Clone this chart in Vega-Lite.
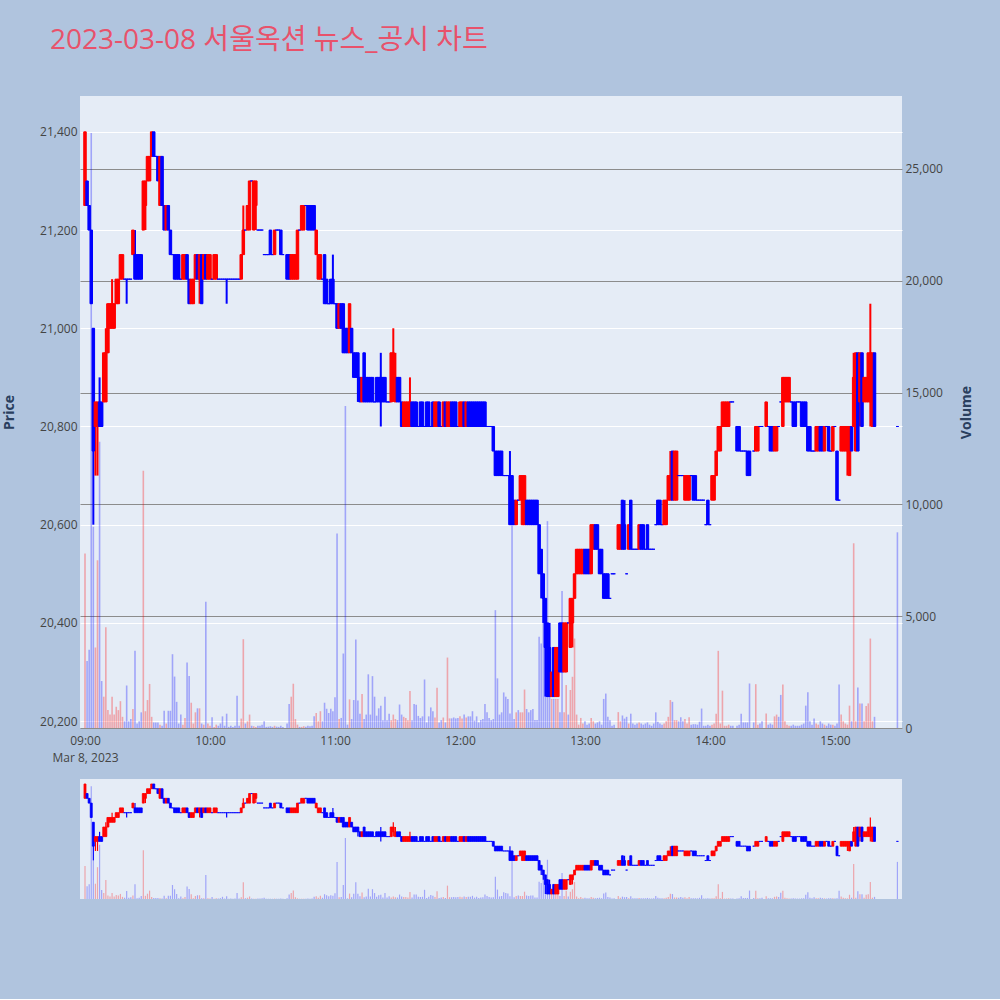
{
"$schema": "https://vega.github.io/schema/vega-lite/v6.json",
"background": "#B0C4DE",
"padding": {"left": 2, "top": 27, "right": 27, "bottom": 100},
"title": {"text": "2023-03-08 서울옥션 뉴스_공시 차트", "anchor": "start", "frame": "bounds", "fontSize": 28, "font": "Open Sans, Noto Sans CJK KR, sans-serif", "fontWeight": "normal", "color": "#E8526B", "dx": 48, "offset": 41},
"data": {"format": {"parse": {"t": "utc:'%H:%M'"}}, "values": [
{"t":"09:00","o":21250,"h":21400,"l":21250,"c":21400,"v":7800},
{"t":"09:01","o":21300,"h":21300,"l":21250,"c":21250,"v":3000},
{"t":"09:02","o":21250,"h":21250,"l":21200,"c":21200,"v":3500},
{"t":"09:03","o":21200,"h":21200,"l":21050,"c":21050,"v":26600},
{"t":"09:04","o":21000,"h":21000,"l":20600,"c":20750,"v":9000},
{"t":"09:05","o":20800,"h":20850,"l":20700,"c":20850,"v":3600},
{"t":"09:06","o":20800,"h":20850,"l":20700,"c":20850,"v":7500},
{"t":"09:07","o":20850,"h":20900,"l":20800,"c":20800,"v":12800},
{"t":"09:08","o":20850,"h":20850,"l":20800,"c":20800,"v":2100},
{"t":"09:09","o":20850,"h":20950,"l":20850,"c":20950,"v":1400},
{"t":"09:10","o":20850,"h":21000,"l":20850,"c":20950,"v":4500},
{"t":"09:11","o":20950,"h":21050,"l":20950,"c":21050,"v":800},
{"t":"09:12","o":21000,"h":21050,"l":21000,"c":21050,"v":600},
{"t":"09:13","o":21000,"h":21100,"l":21000,"c":21050,"v":1400},
{"t":"09:14","o":21000,"h":21050,"l":21000,"c":21050,"v":600},
{"t":"09:15","o":21050,"h":21100,"l":21050,"c":21100,"v":950},
{"t":"09:16","o":21050,"h":21100,"l":21050,"c":21100,"v":800},
{"t":"09:17","o":21100,"h":21150,"l":21100,"c":21150,"v":1200},
{"t":"09:18","o":21100,"h":21150,"l":21100,"c":21150,"v":500},
{"t":"09:19","o":21100,"h":21100,"l":21100,"c":21100,"v":300},
{"t":"09:20","o":21100,"h":21100,"l":21050,"c":21100,"v":1900},
{"t":"09:21","o":21100,"h":21100,"l":21100,"c":21100,"v":300},
{"t":"09:22","o":21100,"h":21100,"l":21100,"c":21100,"v":400},
{"t":"09:23","o":21150,"h":21200,"l":21150,"c":21200,"v":850},
{"t":"09:24","o":21150,"h":21200,"l":21100,"c":21100,"v":3450},
{"t":"09:25","o":21150,"h":21150,"l":21100,"c":21100,"v":200},
{"t":"09:26","o":21150,"h":21150,"l":21100,"c":21100,"v":300},
{"t":"09:27","o":21150,"h":21150,"l":21100,"c":21100,"v":700},
{"t":"09:28","o":21200,"h":21300,"l":21200,"c":21300,"v":11500},
{"t":"09:29","o":21250,"h":21300,"l":21200,"c":21300,"v":750},
{"t":"09:30","o":21300,"h":21350,"l":21300,"c":21350,"v":1250},
{"t":"09:31","o":21300,"h":21350,"l":21300,"c":21350,"v":1970},
{"t":"09:32","o":21350,"h":21400,"l":21350,"c":21400,"v":500},
{"t":"09:33","o":21400,"h":21400,"l":21350,"c":21350,"v":250},
{"t":"09:34","o":21350,"h":21350,"l":21350,"c":21350,"v":250},
{"t":"09:35","o":21350,"h":21350,"l":21300,"c":21300,"v":250},
{"t":"09:36","o":21250,"h":21350,"l":21250,"c":21350,"v":150},
{"t":"09:37","o":21350,"h":21350,"l":21250,"c":21250,"v":100},
{"t":"09:38","o":21250,"h":21250,"l":21200,"c":21200,"v":770},
{"t":"09:39","o":21200,"h":21250,"l":21200,"c":21250,"v":200},
{"t":"09:40","o":21250,"h":21250,"l":21200,"c":21200,"v":770},
{"t":"09:41","o":21200,"h":21200,"l":21150,"c":21150,"v":770},
{"t":"09:42","o":21150,"h":21150,"l":21150,"c":21150,"v":3300},
{"t":"09:43","o":21150,"h":21150,"l":21100,"c":21100,"v":2300},
{"t":"09:44","o":21150,"h":21150,"l":21100,"c":21100,"v":1170},
{"t":"09:45","o":21150,"h":21150,"l":21100,"c":21100,"v":200},
{"t":"09:46","o":21100,"h":21100,"l":21100,"c":21100,"v":600},
{"t":"09:47","o":21100,"h":21150,"l":21100,"c":21150,"v":150},
{"t":"09:48","o":21100,"h":21150,"l":21100,"c":21150,"v":450},
{"t":"09:49","o":21150,"h":21150,"l":21100,"c":21100,"v":2930},
{"t":"09:50","o":21100,"h":21100,"l":21050,"c":21050,"v":2330},
{"t":"09:51","o":21050,"h":21100,"l":21050,"c":21100,"v":1130},
{"t":"09:52","o":21050,"h":21100,"l":21050,"c":21100,"v":200},
{"t":"09:53","o":21100,"h":21150,"l":21100,"c":21150,"v":700},
{"t":"09:54","o":21150,"h":21150,"l":21100,"c":21100,"v":880},
{"t":"09:55","o":21100,"h":21150,"l":21050,"c":21150,"v":880},
{"t":"09:56","o":21150,"h":21150,"l":21050,"c":21050,"v":200},
{"t":"09:57","o":21100,"h":21150,"l":21100,"c":21150,"v":150},
{"t":"09:58","o":21150,"h":21150,"l":21100,"c":21100,"v":5650},
{"t":"09:59","o":21100,"h":21150,"l":21100,"c":21150,"v":200},
{"t":"10:00","o":21100,"h":21150,"l":21100,"c":21150,"v":100},
{"t":"10:01","o":21100,"h":21100,"l":21100,"c":21100,"v":480},
{"t":"10:02","o":21100,"h":21150,"l":21100,"c":21150,"v":50},
{"t":"10:03","o":21100,"h":21150,"l":21100,"c":21150,"v":150},
{"t":"10:04","o":21100,"h":21100,"l":21100,"c":21100,"v":100},
{"t":"10:05","o":21100,"h":21100,"l":21100,"c":21100,"v":200},
{"t":"10:06","o":21100,"h":21100,"l":21100,"c":21100,"v":520},
{"t":"10:07","o":21100,"h":21100,"l":21100,"c":21100,"v":100},
{"t":"10:08","o":21100,"h":21100,"l":21050,"c":21100,"v":640},
{"t":"10:09","o":21100,"h":21100,"l":21100,"c":21100,"v":50},
{"t":"10:10","o":21100,"h":21100,"l":21100,"c":21100,"v":100},
{"t":"10:11","o":21100,"h":21100,"l":21100,"c":21100,"v":50},
{"t":"10:12","o":21100,"h":21100,"l":21100,"c":21100,"v":100},
{"t":"10:13","o":21100,"h":21100,"l":21100,"c":21100,"v":1440},
{"t":"10:14","o":21100,"h":21100,"l":21100,"c":21100,"v":100},
{"t":"10:15","o":21100,"h":21150,"l":21100,"c":21150,"v":420},
{"t":"10:16","o":21150,"h":21250,"l":21150,"c":21200,"v":3970},
{"t":"10:17","o":21200,"h":21200,"l":21200,"c":21200,"v":200},
{"t":"10:18","o":21200,"h":21250,"l":21200,"c":21250,"v":300},
{"t":"10:19","o":21200,"h":21300,"l":21200,"c":21300,"v":600},
{"t":"10:20","o":21300,"h":21300,"l":21300,"c":21300,"v":100},
{"t":"10:21","o":21200,"h":21300,"l":21200,"c":21300,"v":80},
{"t":"10:22","o":21250,"h":21300,"l":21200,"c":21300,"v":50},
{"t":"10:23","o":21200,"h":21200,"l":21200,"c":21200,"v":100},
{"t":"10:24","o":21200,"h":21200,"l":21200,"c":21200,"v":100},
{"t":"10:25","o":21200,"h":21200,"l":21200,"c":21200,"v":150},
{"t":"10:26","o":21150,"h":21150,"l":21150,"c":21150,"v":300},
{"t":"10:27","o":21150,"h":21150,"l":21150,"c":21150,"v":50},
{"t":"10:28","o":21150,"h":21150,"l":21150,"c":21150,"v":60},
{"t":"10:29","o":21200,"h":21200,"l":21150,"c":21150,"v":80},
{"t":"10:30","o":21150,"h":21150,"l":21150,"c":21150,"v":50},
{"t":"10:31","o":21150,"h":21200,"l":21150,"c":21200,"v":100},
{"t":"10:32","o":21200,"h":21200,"l":21200,"c":21200,"v":60},
{"t":"10:33","o":21200,"h":21200,"l":21200,"c":21200,"v":50},
{"t":"10:34","o":21200,"h":21200,"l":21150,"c":21150,"v":100},
{"t":"10:35","o":21150,"h":21150,"l":21150,"c":21150,"v":50},
{"t":"10:37","o":21150,"h":21150,"l":21100,"c":21100,"v":200},
{"t":"10:38","o":21150,"h":21150,"l":21100,"c":21100,"v":1070},
{"t":"10:39","o":21100,"h":21150,"l":21100,"c":21150,"v":1400},
{"t":"10:40","o":21100,"h":21150,"l":21100,"c":21150,"v":1980},
{"t":"10:41","o":21100,"h":21150,"l":21100,"c":21150,"v":400},
{"t":"10:42","o":21100,"h":21200,"l":21100,"c":21200,"v":150},
{"t":"10:43","o":21200,"h":21200,"l":21200,"c":21200,"v":50},
{"t":"10:44","o":21200,"h":21250,"l":21200,"c":21250,"v":50},
{"t":"10:45","o":21200,"h":21250,"l":21200,"c":21250,"v":80},
{"t":"10:46","o":21250,"h":21250,"l":21250,"c":21250,"v":60},
{"t":"10:47","o":21250,"h":21250,"l":21200,"c":21200,"v":100},
{"t":"10:48","o":21250,"h":21250,"l":21200,"c":21200,"v":80},
{"t":"10:49","o":21250,"h":21250,"l":21200,"c":21200,"v":100},
{"t":"10:50","o":21250,"h":21250,"l":21200,"c":21200,"v":520},
{"t":"10:51","o":21150,"h":21200,"l":21150,"c":21200,"v":670},
{"t":"10:52","o":21100,"h":21150,"l":21100,"c":21150,"v":300},
{"t":"10:53","o":21100,"h":21150,"l":21100,"c":21150,"v":750},
{"t":"10:54","o":21100,"h":21100,"l":21100,"c":21100,"v":300},
{"t":"10:55","o":21150,"h":21150,"l":21050,"c":21050,"v":1130},
{"t":"10:56","o":21100,"h":21100,"l":21050,"c":21050,"v":860},
{"t":"10:57","o":21050,"h":21050,"l":21050,"c":21050,"v":670},
{"t":"10:58","o":21100,"h":21100,"l":21050,"c":21050,"v":860},
{"t":"10:59","o":21100,"h":21150,"l":21050,"c":21050,"v":750},
{"t":"11:00","o":21050,"h":21050,"l":21050,"c":21050,"v":1380},
{"t":"11:01","o":21050,"h":21050,"l":21000,"c":21000,"v":8700},
{"t":"11:02","o":21000,"h":21050,"l":21000,"c":21050,"v":400},
{"t":"11:03","o":21050,"h":21050,"l":21000,"c":21000,"v":450},
{"t":"11:04","o":21050,"h":21050,"l":20950,"c":20950,"v":3330},
{"t":"11:05","o":21000,"h":21000,"l":20950,"c":20950,"v":14400},
{"t":"11:06","o":21000,"h":21000,"l":20950,"c":20950,"v":150},
{"t":"11:07","o":20950,"h":21050,"l":20950,"c":21050,"v":1280},
{"t":"11:08","o":21000,"h":21000,"l":20950,"c":20950,"v":400},
{"t":"11:09","o":20950,"h":20950,"l":20900,"c":20900,"v":1250},
{"t":"11:10","o":20950,"h":20950,"l":20900,"c":20900,"v":3960},
{"t":"11:11","o":20950,"h":20950,"l":20850,"c":20900,"v":1230},
{"t":"11:12","o":20900,"h":20900,"l":20850,"c":20850,"v":640},
{"t":"11:13","o":20850,"h":20900,"l":20850,"c":20900,"v":1520},
{"t":"11:14","o":20950,"h":20950,"l":20850,"c":20850,"v":400},
{"t":"11:15","o":20900,"h":20900,"l":20850,"c":20850,"v":600},
{"t":"11:16","o":20900,"h":20900,"l":20850,"c":20850,"v":2400},
{"t":"11:17","o":20900,"h":20900,"l":20850,"c":20850,"v":600},
{"t":"11:18","o":20900,"h":20900,"l":20850,"c":20850,"v":2320},
{"t":"11:19","o":20850,"h":20850,"l":20850,"c":20850,"v":1400},
{"t":"11:20","o":20900,"h":20900,"l":20850,"c":20850,"v":550},
{"t":"11:21","o":20900,"h":20900,"l":20850,"c":20850,"v":880},
{"t":"11:22","o":20900,"h":20950,"l":20800,"c":20850,"v":1000},
{"t":"11:23","o":20900,"h":20900,"l":20850,"c":20850,"v":350},
{"t":"11:24","o":20900,"h":20900,"l":20850,"c":20850,"v":1400},
{"t":"11:25","o":20850,"h":20850,"l":20850,"c":20850,"v":350},
{"t":"11:26","o":20850,"h":20850,"l":20850,"c":20850,"v":640},
{"t":"11:27","o":20850,"h":20950,"l":20850,"c":20950,"v":350},
{"t":"11:28","o":20900,"h":21000,"l":20850,"c":20950,"v":600},
{"t":"11:29","o":20850,"h":20950,"l":20850,"c":20900,"v":400},
{"t":"11:30","o":20900,"h":20900,"l":20850,"c":20850,"v":350},
{"t":"11:31","o":20900,"h":20900,"l":20850,"c":20850,"v":1050},
{"t":"11:32","o":20850,"h":20850,"l":20800,"c":20800,"v":600},
{"t":"11:33","o":20800,"h":20850,"l":20800,"c":20850,"v":500},
{"t":"11:34","o":20800,"h":20850,"l":20800,"c":20850,"v":450},
{"t":"11:35","o":20800,"h":20850,"l":20800,"c":20850,"v":350},
{"t":"11:36","o":20800,"h":20900,"l":20800,"c":20850,"v":1650},
{"t":"11:37","o":20850,"h":20850,"l":20800,"c":20800,"v":350},
{"t":"11:38","o":20850,"h":20850,"l":20800,"c":20800,"v":1070},
{"t":"11:39","o":20850,"h":20850,"l":20800,"c":20800,"v":1040},
{"t":"11:40","o":20800,"h":20800,"l":20800,"c":20800,"v":540},
{"t":"11:41","o":20850,"h":20850,"l":20800,"c":20800,"v":450},
{"t":"11:42","o":20850,"h":20850,"l":20800,"c":20800,"v":520},
{"t":"11:43","o":20800,"h":20800,"l":20800,"c":20800,"v":2170},
{"t":"11:44","o":20850,"h":20850,"l":20800,"c":20800,"v":250},
{"t":"11:45","o":20850,"h":20850,"l":20800,"c":20800,"v":520},
{"t":"11:46","o":20800,"h":20800,"l":20800,"c":20800,"v":920},
{"t":"11:47","o":20850,"h":20850,"l":20800,"c":20800,"v":750},
{"t":"11:48","o":20800,"h":20850,"l":20800,"c":20850,"v":470},
{"t":"11:49","o":20800,"h":20850,"l":20800,"c":20850,"v":1800},
{"t":"11:50","o":20850,"h":20850,"l":20800,"c":20800,"v":250},
{"t":"11:51","o":20800,"h":20800,"l":20800,"c":20800,"v":350},
{"t":"11:52","o":20800,"h":20850,"l":20800,"c":20850,"v":470},
{"t":"11:53","o":20850,"h":20850,"l":20800,"c":20800,"v":250},
{"t":"11:54","o":20800,"h":20850,"l":20800,"c":20850,"v":3150},
{"t":"11:55","o":20800,"h":20850,"l":20800,"c":20850,"v":430},
{"t":"11:56","o":20850,"h":20850,"l":20800,"c":20800,"v":430},
{"t":"11:57","o":20850,"h":20850,"l":20800,"c":20800,"v":470},
{"t":"11:58","o":20850,"h":20850,"l":20800,"c":20800,"v":430},
{"t":"11:59","o":20800,"h":20800,"l":20800,"c":20800,"v":450},
{"t":"12:00","o":20800,"h":20850,"l":20800,"c":20850,"v":520},
{"t":"12:01","o":20800,"h":20850,"l":20800,"c":20850,"v":430},
{"t":"12:02","o":20850,"h":20850,"l":20800,"c":20800,"v":600},
{"t":"12:03","o":20800,"h":20850,"l":20800,"c":20850,"v":470},
{"t":"12:04","o":20850,"h":20850,"l":20800,"c":20800,"v":520},
{"t":"12:05","o":20850,"h":20850,"l":20800,"c":20800,"v":520},
{"t":"12:06","o":20850,"h":20850,"l":20800,"c":20800,"v":750},
{"t":"12:07","o":20850,"h":20850,"l":20800,"c":20800,"v":330},
{"t":"12:08","o":20850,"h":20850,"l":20800,"c":20800,"v":520},
{"t":"12:09","o":20850,"h":20850,"l":20800,"c":20800,"v":250},
{"t":"12:10","o":20850,"h":20850,"l":20800,"c":20800,"v":360},
{"t":"12:11","o":20850,"h":20850,"l":20800,"c":20800,"v":400},
{"t":"12:12","o":20850,"h":20850,"l":20800,"c":20800,"v":1070},
{"t":"12:13","o":20800,"h":20800,"l":20800,"c":20800,"v":700},
{"t":"12:14","o":20800,"h":20800,"l":20800,"c":20800,"v":450},
{"t":"12:15","o":20800,"h":20800,"l":20800,"c":20800,"v":350},
{"t":"12:16","o":20800,"h":20800,"l":20750,"c":20750,"v":400},
{"t":"12:17","o":20750,"h":20750,"l":20700,"c":20700,"v":5270},
{"t":"12:18","o":20750,"h":20750,"l":20700,"c":20700,"v":2220},
{"t":"12:19","o":20750,"h":20750,"l":20700,"c":20700,"v":600},
{"t":"12:20","o":20750,"h":20750,"l":20700,"c":20700,"v":700},
{"t":"12:21","o":20700,"h":20700,"l":20700,"c":20700,"v":1590},
{"t":"12:22","o":20700,"h":20700,"l":20700,"c":20700,"v":1400},
{"t":"12:23","o":20700,"h":20700,"l":20700,"c":20700,"v":1300},
{"t":"12:24","o":20700,"h":20750,"l":20600,"c":20600,"v":650},
{"t":"12:25","o":20700,"h":20700,"l":20600,"c":20600,"v":9060},
{"t":"12:26","o":20650,"h":20650,"l":20600,"c":20600,"v":400},
{"t":"12:27","o":20600,"h":20650,"l":20600,"c":20650,"v":700},
{"t":"12:28","o":20650,"h":20650,"l":20650,"c":20650,"v":800},
{"t":"12:29","o":20650,"h":20700,"l":20650,"c":20700,"v":700},
{"t":"12:30","o":20600,"h":20700,"l":20600,"c":20700,"v":700},
{"t":"12:31","o":20600,"h":20700,"l":20600,"c":20700,"v":1720},
{"t":"12:32","o":20650,"h":20650,"l":20600,"c":20600,"v":850},
{"t":"12:33","o":20650,"h":20650,"l":20600,"c":20600,"v":700},
{"t":"12:34","o":20650,"h":20650,"l":20600,"c":20600,"v":800},
{"t":"12:35","o":20650,"h":20650,"l":20600,"c":20600,"v":850},
{"t":"12:36","o":20650,"h":20650,"l":20600,"c":20600,"v":360},
{"t":"12:37","o":20650,"h":20650,"l":20600,"c":20600,"v":360},
{"t":"12:38","o":20600,"h":20600,"l":20500,"c":20500,"v":4080},
{"t":"12:39","o":20550,"h":20550,"l":20450,"c":20500,"v":3780},
{"t":"12:40","o":20500,"h":20500,"l":20400,"c":20450,"v":6400},
{"t":"12:41","o":20450,"h":20450,"l":20250,"c":20350,"v":4000},
{"t":"12:42","o":20400,"h":20400,"l":20250,"c":20250,"v":9250},
{"t":"12:43","o":20350,"h":20400,"l":20250,"c":20250,"v":4500},
{"t":"12:44","o":20250,"h":20300,"l":20250,"c":20300,"v":1300},
{"t":"12:45","o":20350,"h":20350,"l":20250,"c":20250,"v":1300},
{"t":"12:46","o":20250,"h":20350,"l":20250,"c":20350,"v":1300},
{"t":"12:47","o":20250,"h":20350,"l":20250,"c":20350,"v":1300},
{"t":"12:48","o":20400,"h":20400,"l":20300,"c":20300,"v":700},
{"t":"12:49","o":20400,"h":20400,"l":20300,"c":20300,"v":6130},
{"t":"12:50","o":20300,"h":20400,"l":20300,"c":20400,"v":700},
{"t":"12:51","o":20300,"h":20400,"l":20300,"c":20400,"v":1920},
{"t":"12:52","o":20400,"h":20400,"l":20400,"c":20400,"v":600},
{"t":"12:53","o":20350,"h":20450,"l":20350,"c":20450,"v":1700},
{"t":"12:54","o":20400,"h":20450,"l":20350,"c":20450,"v":2290},
{"t":"12:55","o":20450,"h":20500,"l":20450,"c":20500,"v":4000},
{"t":"12:56","o":20500,"h":20550,"l":20500,"c":20550,"v":600},
{"t":"12:57","o":20500,"h":20550,"l":20500,"c":20550,"v":150},
{"t":"12:58","o":20500,"h":20550,"l":20500,"c":20550,"v":450},
{"t":"12:59","o":20500,"h":20550,"l":20500,"c":20550,"v":200},
{"t":"13:00","o":20550,"h":20550,"l":20500,"c":20500,"v":300},
{"t":"13:01","o":20550,"h":20550,"l":20500,"c":20500,"v":150},
{"t":"13:02","o":20550,"h":20550,"l":20500,"c":20500,"v":200},
{"t":"13:03","o":20500,"h":20600,"l":20500,"c":20600,"v":450},
{"t":"13:04","o":20550,"h":20600,"l":20550,"c":20600,"v":300},
{"t":"13:05","o":20600,"h":20600,"l":20550,"c":20550,"v":200},
{"t":"13:06","o":20600,"h":20600,"l":20550,"c":20550,"v":250},
{"t":"13:07","o":20550,"h":20550,"l":20500,"c":20500,"v":300},
{"t":"13:08","o":20550,"h":20550,"l":20500,"c":20500,"v":150},
{"t":"13:09","o":20500,"h":20500,"l":20450,"c":20450,"v":1300},
{"t":"13:10","o":20500,"h":20500,"l":20450,"c":20450,"v":1540},
{"t":"13:11","o":20500,"h":20500,"l":20450,"c":20450,"v":500},
{"t":"13:12","o":20450,"h":20450,"l":20450,"c":20450,"v":350},
{"t":"13:13","o":20500,"h":20500,"l":20500,"c":20500,"v":100},
{"t":"13:14","o":20500,"h":20500,"l":20500,"c":20500,"v":150},
{"t":"13:16","o":20550,"h":20600,"l":20550,"c":20600,"v":710},
{"t":"13:17","o":20550,"h":20600,"l":20550,"c":20600,"v":300},
{"t":"13:18","o":20650,"h":20650,"l":20550,"c":20550,"v":560},
{"t":"13:19","o":20600,"h":20650,"l":20550,"c":20550,"v":420},
{"t":"13:20","o":20500,"h":20500,"l":20500,"c":20500,"v":500},
{"t":"13:21","o":20550,"h":20600,"l":20550,"c":20600,"v":200},
{"t":"13:22","o":20650,"h":20650,"l":20550,"c":20550,"v":640},
{"t":"13:23","o":20550,"h":20550,"l":20550,"c":20550,"v":200},
{"t":"13:24","o":20550,"h":20550,"l":20550,"c":20550,"v":150},
{"t":"13:25","o":20550,"h":20550,"l":20550,"c":20550,"v":200},
{"t":"13:26","o":20550,"h":20600,"l":20550,"c":20600,"v":250},
{"t":"13:27","o":20600,"h":20600,"l":20550,"c":20550,"v":200},
{"t":"13:28","o":20600,"h":20600,"l":20550,"c":20550,"v":150},
{"t":"13:29","o":20550,"h":20550,"l":20550,"c":20550,"v":200},
{"t":"13:30","o":20600,"h":20600,"l":20550,"c":20550,"v":250},
{"t":"13:31","o":20550,"h":20550,"l":20550,"c":20550,"v":150},
{"t":"13:32","o":20550,"h":20550,"l":20550,"c":20550,"v":100},
{"t":"13:33","o":20550,"h":20550,"l":20550,"c":20550,"v":200},
{"t":"13:34","o":20600,"h":20600,"l":20600,"c":20600,"v":700},
{"t":"13:35","o":20650,"h":20650,"l":20600,"c":20600,"v":280},
{"t":"13:36","o":20650,"h":20650,"l":20600,"c":20600,"v":200},
{"t":"13:37","o":20600,"h":20600,"l":20600,"c":20600,"v":150},
{"t":"13:38","o":20600,"h":20650,"l":20600,"c":20650,"v":200},
{"t":"13:39","o":20600,"h":20650,"l":20600,"c":20650,"v":300},
{"t":"13:40","o":20650,"h":20700,"l":20650,"c":20700,"v":500},
{"t":"13:41","o":20650,"h":20750,"l":20650,"c":20700,"v":1250},
{"t":"13:42","o":20750,"h":20750,"l":20650,"c":20650,"v":1170},
{"t":"13:43","o":20650,"h":20750,"l":20650,"c":20750,"v":350},
{"t":"13:44","o":20650,"h":20750,"l":20650,"c":20750,"v":350},
{"t":"13:45","o":20700,"h":20700,"l":20700,"c":20700,"v":300},
{"t":"13:46","o":20700,"h":20700,"l":20700,"c":20700,"v":480},
{"t":"13:47","o":20700,"h":20700,"l":20700,"c":20700,"v":300},
{"t":"13:48","o":20650,"h":20700,"l":20650,"c":20700,"v":400},
{"t":"13:49","o":20650,"h":20700,"l":20650,"c":20700,"v":200},
{"t":"13:50","o":20650,"h":20700,"l":20650,"c":20700,"v":480},
{"t":"13:51","o":20700,"h":20700,"l":20700,"c":20700,"v":150},
{"t":"13:52","o":20700,"h":20700,"l":20650,"c":20650,"v":170},
{"t":"13:53","o":20700,"h":20700,"l":20650,"c":20650,"v":170},
{"t":"13:54","o":20650,"h":20650,"l":20650,"c":20650,"v":150},
{"t":"13:55","o":20650,"h":20650,"l":20650,"c":20650,"v":280},
{"t":"13:56","o":20650,"h":20650,"l":20650,"c":20650,"v":870},
{"t":"13:57","o":20650,"h":20650,"l":20650,"c":20650,"v":100},
{"t":"13:58","o":20600,"h":20600,"l":20600,"c":20600,"v":100},
{"t":"13:59","o":20650,"h":20650,"l":20600,"c":20600,"v":150},
{"t":"14:00","o":20600,"h":20600,"l":20600,"c":20600,"v":100},
{"t":"14:01","o":20650,"h":20700,"l":20650,"c":20700,"v":150},
{"t":"14:02","o":20650,"h":20700,"l":20650,"c":20700,"v":200},
{"t":"14:03","o":20700,"h":20750,"l":20700,"c":20750,"v":640},
{"t":"14:04","o":20750,"h":20800,"l":20750,"c":20800,"v":3450},
{"t":"14:05","o":20750,"h":20800,"l":20750,"c":20800,"v":200},
{"t":"14:06","o":20800,"h":20850,"l":20800,"c":20850,"v":1670},
{"t":"14:07","o":20800,"h":20850,"l":20800,"c":20850,"v":100},
{"t":"14:08","o":20800,"h":20850,"l":20800,"c":20850,"v":100},
{"t":"14:09","o":20800,"h":20850,"l":20800,"c":20850,"v":150},
{"t":"14:10","o":20850,"h":20850,"l":20850,"c":20850,"v":100},
{"t":"14:11","o":20850,"h":20850,"l":20850,"c":20850,"v":100},
{"t":"14:13","o":20800,"h":20800,"l":20750,"c":20750,"v":100},
{"t":"14:14","o":20800,"h":20800,"l":20750,"c":20750,"v":150},
{"t":"14:15","o":20750,"h":20750,"l":20750,"c":20750,"v":640},
{"t":"14:16","o":20750,"h":20750,"l":20750,"c":20750,"v":250},
{"t":"14:17","o":20750,"h":20750,"l":20750,"c":20750,"v":250},
{"t":"14:18","o":20750,"h":20750,"l":20700,"c":20700,"v":250},
{"t":"14:19","o":20750,"h":20750,"l":20700,"c":20700,"v":1990},
{"t":"14:21","o":20750,"h":20750,"l":20750,"c":20750,"v":250},
{"t":"14:22","o":20750,"h":20800,"l":20750,"c":20800,"v":1960},
{"t":"14:23","o":20750,"h":20800,"l":20750,"c":20800,"v":150},
{"t":"14:24","o":20800,"h":20800,"l":20800,"c":20800,"v":200},
{"t":"14:25","o":20800,"h":20800,"l":20800,"c":20800,"v":300},
{"t":"14:27","o":20800,"h":20850,"l":20800,"c":20850,"v":650},
{"t":"14:28","o":20800,"h":20800,"l":20800,"c":20800,"v":150},
{"t":"14:29","o":20800,"h":20800,"l":20750,"c":20750,"v":200},
{"t":"14:30","o":20800,"h":20800,"l":20750,"c":20750,"v":150},
{"t":"14:31","o":20750,"h":20800,"l":20750,"c":20800,"v":520},
{"t":"14:32","o":20750,"h":20800,"l":20750,"c":20800,"v":600},
{"t":"14:33","o":20800,"h":20800,"l":20800,"c":20800,"v":500},
{"t":"14:34","o":20850,"h":20850,"l":20850,"c":20850,"v":1480},
{"t":"14:35","o":20800,"h":20900,"l":20800,"c":20900,"v":1940},
{"t":"14:36","o":20850,"h":20900,"l":20850,"c":20900,"v":300},
{"t":"14:37","o":20850,"h":20900,"l":20850,"c":20900,"v":150},
{"t":"14:38","o":20850,"h":20900,"l":20850,"c":20900,"v":100},
{"t":"14:39","o":20850,"h":20850,"l":20850,"c":20850,"v":100},
{"t":"14:40","o":20850,"h":20850,"l":20800,"c":20800,"v":150},
{"t":"14:41","o":20850,"h":20850,"l":20800,"c":20800,"v":100},
{"t":"14:42","o":20850,"h":20850,"l":20850,"c":20850,"v":100},
{"t":"14:43","o":20850,"h":20850,"l":20850,"c":20850,"v":100},
{"t":"14:44","o":20850,"h":20850,"l":20800,"c":20800,"v":150},
{"t":"14:45","o":20850,"h":20850,"l":20800,"c":20800,"v":200},
{"t":"14:46","o":20850,"h":20850,"l":20800,"c":20800,"v":1000},
{"t":"14:47","o":20800,"h":20800,"l":20750,"c":20750,"v":1600},
{"t":"14:48","o":20800,"h":20800,"l":20750,"c":20750,"v":300},
{"t":"14:49","o":20750,"h":20750,"l":20750,"c":20750,"v":150},
{"t":"14:50","o":20750,"h":20750,"l":20750,"c":20750,"v":420},
{"t":"14:51","o":20750,"h":20800,"l":20750,"c":20800,"v":200},
{"t":"14:52","o":20750,"h":20800,"l":20750,"c":20800,"v":150},
{"t":"14:53","o":20800,"h":20800,"l":20750,"c":20750,"v":300},
{"t":"14:54","o":20800,"h":20800,"l":20750,"c":20750,"v":200},
{"t":"14:55","o":20750,"h":20800,"l":20750,"c":20800,"v":150},
{"t":"14:56","o":20800,"h":20800,"l":20800,"c":20800,"v":100},
{"t":"14:57","o":20800,"h":20800,"l":20750,"c":20750,"v":200},
{"t":"14:58","o":20750,"h":20750,"l":20750,"c":20750,"v":150},
{"t":"14:59","o":20750,"h":20800,"l":20750,"c":20800,"v":150},
{"t":"15:00","o":20800,"h":20800,"l":20800,"c":20800,"v":100},
{"t":"15:01","o":20750,"h":20750,"l":20650,"c":20650,"v":200},
{"t":"15:02","o":20650,"h":20650,"l":20650,"c":20650,"v":1950},
{"t":"15:03","o":20750,"h":20800,"l":20750,"c":20800,"v":600},
{"t":"15:04","o":20750,"h":20800,"l":20750,"c":20800,"v":300},
{"t":"15:05","o":20750,"h":20800,"l":20750,"c":20800,"v":200},
{"t":"15:06","o":20750,"h":20800,"l":20700,"c":20800,"v":150},
{"t":"15:07","o":20700,"h":20800,"l":20700,"c":20800,"v":1000},
{"t":"15:08","o":20800,"h":20800,"l":20750,"c":20750,"v":300},
{"t":"15:09","o":20800,"h":20950,"l":20800,"c":20900,"v":8260},
{"t":"15:10","o":20750,"h":20950,"l":20750,"c":20950,"v":300},
{"t":"15:11","o":20950,"h":20950,"l":20750,"c":20750,"v":1810},
{"t":"15:12","o":20850,"h":20950,"l":20800,"c":20950,"v":1100},
{"t":"15:13","o":20950,"h":20950,"l":20800,"c":20800,"v":1100},
{"t":"15:14","o":20850,"h":20900,"l":20850,"c":20900,"v":300},
{"t":"15:15","o":20850,"h":20900,"l":20850,"c":20900,"v":980},
{"t":"15:16","o":20850,"h":20950,"l":20850,"c":20950,"v":1100},
{"t":"15:17","o":20850,"h":21050,"l":20800,"c":20950,"v":4000},
{"t":"15:18","o":20800,"h":20950,"l":20800,"c":20950,"v":300},
{"t":"15:19","o":20950,"h":20950,"l":20800,"c":20800,"v":500},
{"t":"15:30","o":20800,"h":20800,"l":20800,"c":20800,"v":8750}
]},
"spacing": 16,
"vconcat": [
{
"width": 822, "height": 632,
"layer": [
{"mark": {"type": "bar", "size": 1.6, "opacity": 0.3, "clip": true},
 "encoding": {
  "x": {"field": "t", "type": "temporal",
   "scale": {"type": "utc", "padding": 0, "domain": [{"year": 1900, "month": 1, "date": 1, "hours": 8, "minutes": 57, "seconds": 36, "utc": true}, {"year": 1900, "month": 1, "date": 1, "hours": 15, "minutes": 32, "seconds": 12, "utc": true}]},
   "axis": {"title": null, "grid": false, "labelFlush": false, "labelPadding": 7, "labelLineHeight": 17, "labelFontSize": 12,
    "values": [{"year": 1900, "month": 1, "date": 1, "hours": 9, "utc": true}, {"year": 1900, "month": 1, "date": 1, "hours": 10, "utc": true}, {"year": 1900, "month": 1, "date": 1, "hours": 11, "utc": true}, {"year": 1900, "month": 1, "date": 1, "hours": 12, "utc": true}, {"year": 1900, "month": 1, "date": 1, "hours": 13, "utc": true}, {"year": 1900, "month": 1, "date": 1, "hours": 14, "utc": true}, {"year": 1900, "month": 1, "date": 1, "hours": 15, "utc": true}],
    "labelExpr": "utcFormat(datum.value, '%H:%M') == '09:00' ? ['09:00', 'Mar 8, 2023'] : utcFormat(datum.value, '%H:%M')"}},
  "y": {"field": "v", "type": "quantitative", "scale": {"domain": [0, 28260], "nice": false},
   "axis": {"orient": "right", "title": "Volume", "titleAngle": 270, "titlePadding": 26, "values": [0, 5000, 10000, 15000, 20000, 25000], "labelExpr": "format(datum.value, ',')", "grid": true, "gridColor": "#8c8c8c", "gridWidth": 1.2, "labelPadding": 3, "minExtent": 45, "maxExtent": 45}},
  "color": {"condition": {"test": "datum.c > datum.o", "value": "#ff0000"}, "value": "#0000ff"}
 }},
{"layer": [
 {"mark": {"type": "rule", "strokeWidth": 2, "clip": true},
  "encoding": {
   "x": {"field": "t", "type": "temporal"},
   "y": {"field": "l", "type": "quantitative", "scale": {"domain": [20186, 21473], "nice": false},
    "axis": {"orient": "left", "title": "Price", "titlePadding": 8, "values": [20200, 20400, 20600, 20800, 21000, 21200, 21400], "labelExpr": "format(datum.value, ',')", "grid": true, "gridColor": "#ffffff", "gridWidth": 1, "labelPadding": 3, "minExtent": 56, "maxExtent": 56}},
   "y2": {"field": "h"},
   "color": {"condition": {"test": "datum.c > datum.o", "value": "#ff0000"}, "value": "#0000ff"}
  }},
 {"mark": {"type": "bar", "size": 2.5, "strokeWidth": 1, "clip": true},
  "encoding": {
   "x": {"field": "t", "type": "temporal"},
   "y": {"field": "o", "type": "quantitative"},
   "y2": {"field": "c"},
   "color": {"condition": {"test": "datum.c > datum.o", "value": "#ff0000"}, "value": "#0000ff"},
   "stroke": {"condition": {"test": "datum.c > datum.o", "value": "#ff0000"}, "value": "#0000ff"}
  }}
]}
],
"resolve": {"scale": {"y": "independent"}, "axis": {"y": "independent"}}
},
{
"width": 822, "height": 120,
"layer": [
{"mark": {"type": "bar", "size": 1.2, "opacity": 0.3, "clip": true},
 "encoding": {
  "x": {"field": "t", "type": "temporal",
   "scale": {"type": "utc", "padding": 0, "domain": [{"year": 1900, "month": 1, "date": 1, "hours": 8, "minutes": 57, "seconds": 36, "utc": true}, {"year": 1900, "month": 1, "date": 1, "hours": 15, "minutes": 32, "seconds": 12, "utc": true}]},
   "axis": null},
  "y": {"field": "v", "type": "quantitative", "scale": {"domain": [0, 28300], "nice": false}, "axis": null},
  "color": {"condition": {"test": "datum.c > datum.o", "value": "#ff0000"}, "value": "#0000ff"}
 }},
{"layer": [
 {"mark": {"type": "rule", "strokeWidth": 1.2, "clip": true},
  "encoding": {
   "x": {"field": "t", "type": "temporal"},
   "y": {"field": "l", "type": "quantitative", "scale": {"domain": [20198, 21452], "nice": false}, "axis": null},
   "y2": {"field": "h"},
   "color": {"condition": {"test": "datum.c > datum.o", "value": "#ff0000"}, "value": "#0000ff"}
  }},
 {"mark": {"type": "bar", "size": 2, "strokeWidth": 0.8, "clip": true},
  "encoding": {
   "x": {"field": "t", "type": "temporal"},
   "y": {"field": "o", "type": "quantitative"},
   "y2": {"field": "c"},
   "color": {"condition": {"test": "datum.c > datum.o", "value": "#ff0000"}, "value": "#0000ff"},
   "stroke": {"condition": {"test": "datum.c > datum.o", "value": "#ff0000"}, "value": "#0000ff"}
  }}
]}
],
"resolve": {"scale": {"y": "independent"}, "axis": {"y": "independent"}}
}
],
"config": {
 "view": {"fill": "#E5ECF6", "stroke": null},
 "font": "Open Sans",
 "axis": {"domain": false, "ticks": false, "labelColor": "#444444", "labelFont": "Open Sans", "labelFontSize": 12, "titleFont": "Open Sans", "titleFontSize": 14, "titleFontWeight": "bold", "titleColor": "#2a3f5f"}
}
}
